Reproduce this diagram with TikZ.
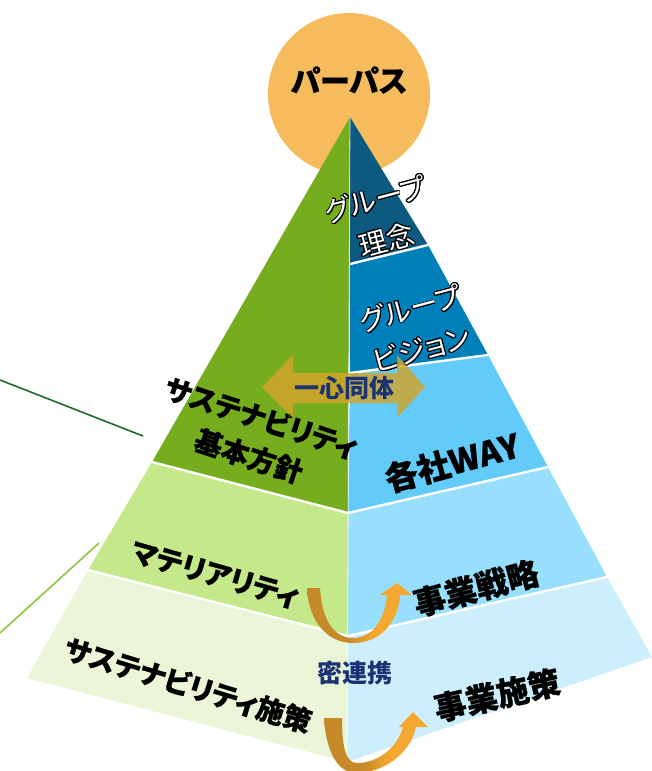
\documentclass[tikz,border=0pt]{standalone}
\usepackage{fontspec}
\newfontfamily\jp{Noto Sans CJK JP}[RawFeature=+palt]
\newfontfamily\jpb{Noto Sans CJK JP}[RawFeature=+palt, FakeBold=0.8]
\usepackage{contour}
\contourlength{0.9pt}
\contournumber{24}
\definecolor{circ}{HTML}{F5BB5D}
\definecolor{gdark}{HTML}{76AD1F}
\definecolor{gmid}{HTML}{C5E88A}
\definecolor{glight}{HTML}{EAF6D7}
\definecolor{bnavy}{HTML}{0D5A80}
\definecolor{bblue}{HTML}{0080BA}
\definecolor{blight}{HTML}{62CBFA}
\definecolor{blighter}{HTML}{98DEFD}
\definecolor{blightest}{HTML}{CDEEFC}
\definecolor{navytext}{HTML}{1B3375}
\definecolor{golddark}{HTML}{C68A28}
\definecolor{goldbright}{HTML}{F5A830}
\definecolor{goldarrow}{HTML}{D4A52A}
\definecolor{lndark}{HTML}{1E6B2A}
\definecolor{lnlight}{HTML}{8DC63F}
\pgfdeclarehorizontalshading{uarrow}{100bp}{color(0bp)=(golddark); color(44bp)=(golddark); color(56bp)=(goldbright); color(100bp)=(goldbright)}
\tikzset{
  lbl/.style={font=\jpb\bfseries\fontsize{28}{40}\selectfont, text=black, align=center, inner sep=0pt},
  wlbl/.style={font=\jp\fontsize{28}{42}\selectfont, text=white, align=center, inner sep=0pt},
  nlbl/.style={font=\jp\bfseries\fontsize{25}{27}\selectfont, text=navytext, inner sep=0pt},
  sep/.style={white, line width=2.4pt},
  uarr/.style={shading=uarrow, draw=none}
}
\begin{document}
\begin{tikzpicture}[x=1pt,y=-1pt]
\useasboundingbox (0,0) rectangle (652,771);
% purpose circle
\fill[circ] (349,94) circle (81pt);
\node[font=\jpb\bfseries\fontsize{30}{32}\selectfont, inner sep=0pt] (purpose) at (349,80) {パーパス};
% pyramid points
\coordinate (A) at (350,117);
\coordinate (C1) at (350,264);
\coordinate (C2) at (350,373);
\coordinate (C3) at (348,513);
\coordinate (C4) at (348,636);
\coordinate (C5) at (347,762);
\coordinate (R1) at (428,245);
\coordinate (R2) at (488,355);
\coordinate (R3) at (548,467);
\coordinate (R4) at (607,577);
\coordinate (R5) at (652,657);
\coordinate (L1) at (152,462);
\coordinate (L2) at (88,570);
\coordinate (L3) at (27,678);
% left face
\fill[gdark] (A) -- (L1) -- (C3) -- cycle;
\fill[gmid] (L1) -- (L2) -- (C4) -- (C3) -- cycle;
\fill[glight] (L2) -- (L3) -- (C5) -- (C4) -- cycle;
% right face
\fill[bnavy] (A) -- (R1) -- (C1) -- cycle;
\fill[bblue] (C1) -- (R1) -- (R2) -- (C2) -- cycle;
\fill[blight] (C2) -- (R2) -- (R3) -- (C3) -- cycle;
\fill[blighter] (C3) -- (R3) -- (R4) -- (C4) -- cycle;
\fill[blightest] (C4) -- (R4) -- (R5) -- (C5) -- cycle;
% separators
\draw[white, line width=0.8pt, opacity=0.8] (A) -- (C5);
\draw[sep] (C1) -- (R1);
\draw[sep] (C2) -- (R2);
\draw[sep] (L1) -- (C3) -- (R3);
\draw[sep] (L2) -- (C4) -- (R4);
% side lines
\coordinate (d0) at (0,380);
\coordinate (d1) at (143,436);
\coordinate (e0) at (0,633);
\coordinate (e1) at (99,543);
\draw[lndark, line width=1.6pt] (d0) -- (d1);
\draw[lnlight, line width=1.6pt] (e0) -- (e1);
% right labels
\node[wlbl, rotate=15] (philo) at (381,220) {\contour{black}{グループ}\\\contour{black}{理念}};
\node[wlbl, rotate=15] (vision) at (416,329) {\contour{black}{グループ}\\\contour{black}{ビジョン}};
\node[lbl, rotate=15, font=\jpb\bfseries\fontsize{33}{35}\selectfont] (way) at (452,462) {各社WAY};
\node[lbl, rotate=15, font=\jpb\bfseries\fontsize{32}{34}\selectfont] (strat) at (476,588) {事業戦略};
\node[lbl, rotate=13, font=\jpb\bfseries\fontsize{32}{34}\selectfont] (meas) at (497,695) {事業施策};
% left labels
\node[lbl, rotate=-18] (policy) at (255,437) {サステナビリティ\\基本方針};
\node[lbl, rotate=-16] (mat) at (215,575) {マテリアリティ};
\node[lbl, rotate=-17] (smeas) at (188,685) {サステナビリティ施策};
% double arrow
\fill[goldarrow, opacity=0.82] (262,387) -- (293,355) -- (293,373) -- (397,373) -- (397,355) -- (425,387) -- (397,418) -- (397,403) -- (293,403) -- (293,418) -- cycle;
\node[nlbl] (unity) at (344,388) {一心同体};
% curved arrows
\path[uarr] (307,588) .. controls (309,625) and (330,643) .. (353,643) .. controls (378,643) and (398,625) .. (400,595) -- (412,595) -- (397,583) -- (380,595) -- (387,595) .. controls (385,620) and (372,638) .. (353,638) .. controls (335,638) and (322,622) .. (320,588) -- cycle;
\path[uarr] (324,718) .. controls (326,752) and (338,773) .. (356,773) .. controls (382,773) and (410,755) .. (416,727) -- (428,727) -- (413,712) -- (399,727) -- (403,727) .. controls (397,748) and (378,763) .. (357,763) .. controls (345,763) and (342,745) .. (342,718) -- cycle;
\node[nlbl] (link) at (355,673) {密連携};
\end{tikzpicture}
\end{document}
